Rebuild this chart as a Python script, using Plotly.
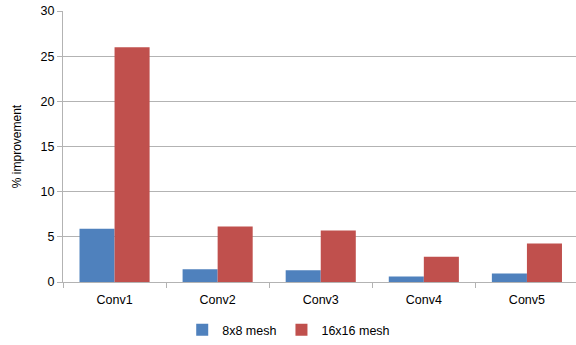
import plotly.graph_objects as go

categories = ["Conv1", "Conv2", "Conv3", "Conv4", "Conv5"]
mesh8 = [5.9, 1.4, 1.3, 0.6, 0.95]
mesh16 = [26.0, 6.15, 5.7, 2.8, 4.25]
series_names = ["8x8 mesh", "16x16 mesh"]
colors = ["#4F81BD", "#C0504D"]

fig = go.Figure()
for name, vals, col in zip(series_names, [mesh8, mesh16], colors):
    fig.add_trace(go.Bar(x=categories, y=vals, name=name, marker=dict(color=col, line=dict(width=0))))

grid = "#B3B3B3"
font = "Liberation Sans, Arial, sans-serif"
fig.update_layout(
    width=576, height=345,
    margin=dict(l=62.5, r=0, t=11.3, b=62.4),
    paper_bgcolor="white", plot_bgcolor="white",
    barmode="group", bargap=0.32, bargroupgap=0,
    font=dict(family=font, size=12.5, color="#000000"),
    showlegend=True,
    legend=dict(orientation="h", x=0.44, xanchor="center", y=-0.178, yanchor="middle",
                font=dict(size=12.5), itemwidth=30, traceorder="normal"),
)
fig.update_xaxes(
    range=[-0.5, 4.476], showline=True, linecolor=grid, linewidth=1,
    ticks="outside", tickson="boundaries", ticklen=5, tickcolor=grid,
    showgrid=False, tickfont=dict(size=12.5), ticklabelstandoff=6,
)
fig.update_yaxes(
    range=[0, 30], dtick=5, showline=True, linecolor=grid, linewidth=1,
    ticks="outside", ticklen=5, tickcolor=grid, showgrid=True, gridcolor=grid,
    gridwidth=1, zeroline=False, tickfont=dict(size=12.5),
    title=dict(text="% improvement", font=dict(size=12), standoff=16),
)
fig.write_html("out.html")
